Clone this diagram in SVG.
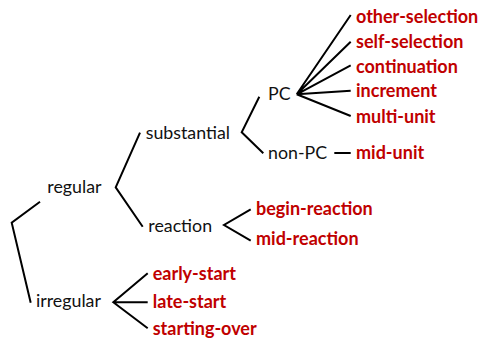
<svg xmlns="http://www.w3.org/2000/svg" width="480" height="338" viewBox="0 0 480 338">
<style>
text{font-family:Lato,"Open Sans","Liberation Sans",sans-serif;font-size:17.8px}
.k{fill:#111}
.r{fill:#c00000;font-weight:bold;font-size:18px}
.e{fill:none;stroke:#000;stroke-width:2;stroke-linecap:butt;stroke-linejoin:miter}
</style>
<rect width="480" height="338" fill="#fff"/>
<g id="connectors">
<polyline class="e" points="40,201.7 11.7,222.7 30.7,302.7"/>
<polyline class="e" points="140,132.7 115.7,187.3 142.7,226.7"/>
<polyline class="e" points="259.3,96.7 241.7,132.3 263.3,153.3"/>
<path class="e" d="M296.7,94.3L350.7,15M296.7,94.3L350.7,41.7M296.7,94.3L350.7,65.3M296.7,94.3L350.7,90.7M296.7,94.3L350.7,116"/>
<line class="e" x1="334.3" y1="153" x2="350.7" y2="153"/>
<path class="e" d="M250.7,209.3L224,225L250.7,240.7"/>
<path class="e" d="M147.7,273.3L113.3,302.3L147.7,328.3M113.3,302.3H147.7"/>
</g>
<g id="n-regular"><text class="k" x="47.3" y="192.7">regular</text></g>
<g id="n-irregular"><text class="k" x="36" y="307.3">irregular</text></g>
<g id="n-substantial"><text class="k" x="145.7" y="139.3">substantial</text></g>
<g id="n-reaction"><text class="k" x="148.3" y="231.7">reaction</text></g>
<g id="n-PC"><text class="k" x="268" y="100">PC</text></g>
<g id="n-nonPC"><text class="k" x="268" y="159">non-PC</text></g>
<g id="n-other-selection"><text class="r" x="356" y="23">other-selection</text></g>
<g id="n-self-selection"><text class="r" x="356" y="47.7">self-selection</text></g>
<g id="n-continuation"><text class="r" x="356" y="72.7">continuation</text></g>
<g id="n-increment"><text class="r" x="356" y="97.3">increment</text></g>
<g id="n-multi-unit"><text class="r" x="356" y="122.7">multi-unit</text></g>
<g id="n-mid-unit"><text class="r" x="356" y="159">mid-unit</text></g>
<g id="n-begin-reaction"><text class="r" x="256" y="215">begin-reaction</text></g>
<g id="n-mid-reaction"><text class="r" x="256" y="245">mid-reaction</text></g>
<g id="n-early-start"><text class="r" x="152.7" y="280">early-start</text></g>
<g id="n-late-start"><text class="r" x="152.7" y="308.3">late-start</text></g>
<g id="n-starting-over"><text class="r" x="152.7" y="335">starting-over</text></g>
</svg>
